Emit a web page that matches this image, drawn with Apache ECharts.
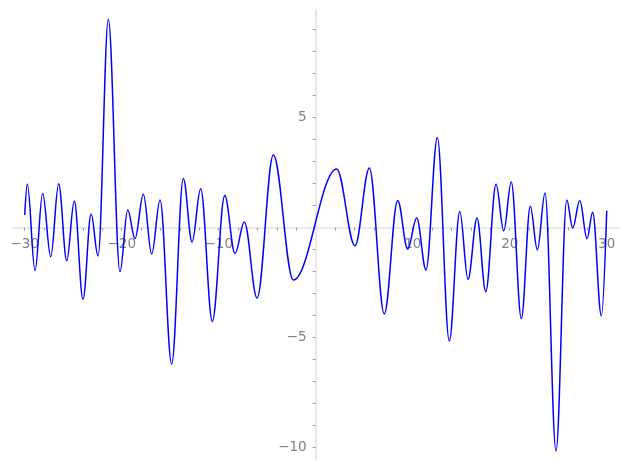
<!DOCTYPE html>
<html>
<head>
<meta charset="utf-8">
<script src="https://cdn.jsdelivr.net/npm/echarts@6/dist/echarts.min.js"></script>
<style>html,body{margin:0;padding:0;background:#fff}#c{width:627px;height:470px}</style>
</head>
<body>
<div id="c"></div>
<script>
// x positions of the curve's turning points
const xs = [-30, -29.73, -28.94, -28.15, -27.32, -26.50, -25.67, -24.89, -23.99, -23.16, -22.44, -21.38,
  -20.18, -19.38, -18.63, -17.77, -16.91, -16.05, -14.85, -13.65, -12.75, -11.86, -10.66, -9.38, -8.32,
  -7.36, -6.05, -4.37, -2.31, 2.16, 4.05, 5.53, 7.07, 8.45, 9.48, 10.41, 11.37, 12.54, 13.77, 14.85,
  15.70, 16.63, 17.53, 18.59, 19.38, 20.16, 21.20, 22.12, 22.85, 23.64, 24.77, 25.88, 26.49, 27.22,
  27.97, 28.55, 29.45, 30];
// y values at those points
const ys = [0.58, 1.99, -1.95, 1.55, -1.32, 2.0, -1.5, 1.21, -3.26, 0.62, -1.29, 9.47,
  -2.0, 0.80, -0.50, 1.52, -1.2, 1.26, -6.2, 2.24, -0.65, 1.77, -4.26, 1.46, -1.17,
  0.26, -3.2, 3.30, -2.38, 2.67, -0.82, 2.71, -3.92, 1.24, -0.97, 0.44, -1.92, 4.09, -5.15, 0.74,
  -2.35, 0.44, -2.91, 1.97, -0.14, 2.08, -4.13, 0.97, -1.01, 1.58, -10.15, 1.26, -0.01, 1.23,
  -0.50, 0.70, -4.01, 0.77];
const xTickLabels = [-30, -20, -10, 10, 20, 30];
const xMinorTicks = [-30, -28, -26, -24, -22, -20, -18, -16, -14, -12, -10, -8, -6, -4, -2,
  2, 4, 6, 8, 10, 12, 14, 16, 18, 20, 22, 24, 26, 28, 30];
const yTickLabels = [-10, -5, 5];
const yMinorTicks = [-10, -9, -8, -7, -6, -5, -4, -3, -2, -1, 1, 2, 3, 4, 5, 6, 7, 8, 9];

const pts = xs.map((x, i) => [x, ys[i]]);
const fmt = v => (v < 0 ? '\u2212' + Math.abs(v) : String(v));
const labelStyle = { color: '#808080', fontFamily: 'DejaVu Sans', fontSize: 13.5 };

const chart = echarts.init(document.getElementById('c'), null, { renderer: 'canvas' });
chart.setOption({
  animation: false,
  backgroundColor: '#ffffff',
  grid: { left: 12.6, top: 9.46, width: 606.25, height: 450.3, containLabel: false, outerBoundsMode: 'none' },
  xAxis: {
    type: 'value', min: -31.25, max: 31.25,
    axisLine: { onZero: true, lineStyle: { color: '#e2e2e2', width: 1.5 } },
    axisTick: { show: true, length: 3, customValues: xMinorTicks, lineStyle: { color: '#9a9a9a', width: 1 } },
    axisLabel: Object.assign({ customValues: xTickLabels, margin: -222.6, formatter: fmt }, labelStyle),
    splitLine: { show: false }
  },
  yAxis: {
    type: 'value', min: -10.55, max: 9.92,
    axisLine: { onZero: true, lineStyle: { color: '#e2e2e2', width: 1.5 } },
    axisTick: { show: true, length: 3, customValues: yMinorTicks, lineStyle: { color: '#9a9a9a', width: 1 } },
    axisLabel: Object.assign({ customValues: yTickLabels, margin: -294.1, padding: [4, 0, 0, 0], formatter: fmt }, labelStyle),
    splitLine: { show: false }
  },
  series: [{
    type: 'line', data: pts, showSymbol: false, symbol: 'none',
    smooth: 0.36, smoothMonotone: 'x',
    lineStyle: { color: '#0000ff', width: 1.5 }
  }]
});
</script>
</body>
</html>
